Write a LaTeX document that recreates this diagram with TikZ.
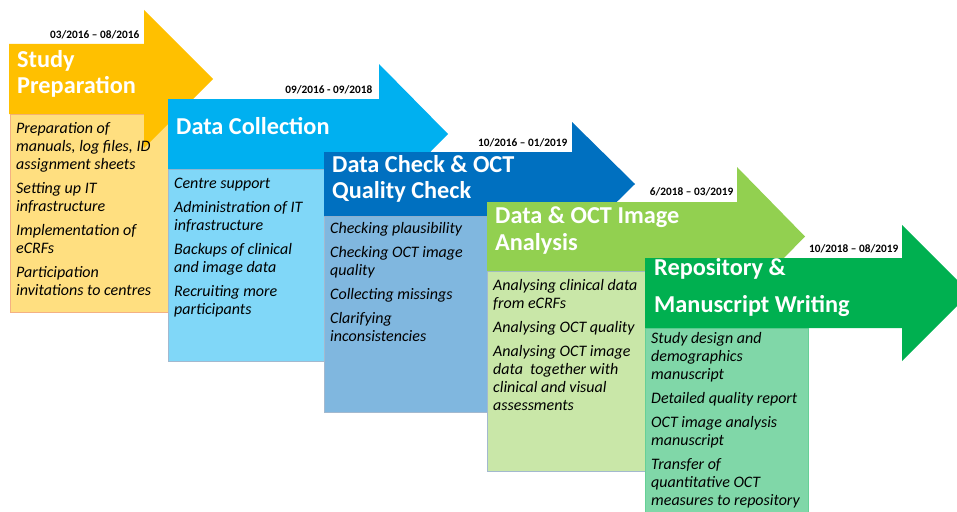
\documentclass[tikz,border=0pt]{standalone}
\usepackage{fontspec}
\setmainfont{Carlito}
\definecolor{cY}{HTML}{FFC000}
\definecolor{cB}{HTML}{00B0F0}
\definecolor{cD}{HTML}{0070C0}
\definecolor{cL}{HTML}{92D050}
\definecolor{cG}{HTML}{00B050}
\definecolor{bdY}{HTML}{F4B183}
\definecolor{bdB}{HTML}{A3B9CF}
\newcommand{\bodytext}[1]{\parbox[t]{175pt}{\raggedright\itshape\fontsize{16}{18}\selectfont #1}}
\newcommand{\headtext}[2]{\parbox[t]{320pt}{\raggedright\bfseries\fontsize{24.3}{#1}\selectfont #2}}
\tikzset{
  boxtext/.style={anchor=base west, inner sep=0pt, text=black},
  headlbl/.style={anchor=base west, inner sep=0pt, text=white},
  datelbl/.style={anchor=base east, inner sep=1.5pt, fill=white, text=black, font=\bfseries\fontsize{11.3}{13}\selectfont},
  taskbox/.style={line width=0.8pt}
}
\begin{document}
\begin{tikzpicture}[x=1pt,y=-1pt]
\useasboundingbox (0,0) rectangle (957,511);
% ---------- phase 1
\filldraw[taskbox, fill=cY!50, draw=bdY] (10,114) rectangle (168,312);
\fill[cY] (9,44) -- (144,44) -- (144,10) -- (213,79) -- (144,148) -- (144,114) -- (9,114) -- cycle;
\node[headlbl] (h1) at (17,67) {\headtext{26.5}{Study\\Preparation}};
\node[boxtext] (b1) at (16,133) {\bodytext{Preparation of\\manuals, log files, ID\\assignment sheets\\[6pt]Setting up IT\\infrastructure\\[6pt]Implementation of\\eCRFs\\[6pt]Participation\\invitations to centres}};
\node[datelbl] (d1) at (141,38) {03/2016 – 08/2016};
% ---------- phase 2
\filldraw[taskbox, fill=cB!50, draw=bdB] (168,169) rectangle (324,361);
\fill[cB] (168,99) -- (379,99) -- (379,64) -- (448,134) -- (379,204) -- (379,169) -- (168,169) -- cycle;
\node[headlbl] (h2) at (176,134) {\headtext{26.5}{Data Collection}};
\node[boxtext] (b2) at (174,188) {\bodytext{Centre support\\[6pt]Administration of IT\\infrastructure\\[6pt]Backups of clinical\\and image data\\[6pt]Recruiting more\\participants}};
\node[datelbl] (d2) at (374,93) {09/2016 - 09/2018};
% ---------- phase 3
\filldraw[taskbox, fill=cD!50, draw=bdB] (324,216) rectangle (487,412);
\fill[cD] (324,152) -- (572,152) -- (572,122) -- (635,184) -- (572,246) -- (572,216) -- (324,216) -- cycle;
\node[headlbl] (h3) at (332,172) {\headtext{26}{Data Check \& OCT\\Quality Check}};
\node[boxtext] (b3) at (330,233) {\bodytext{Checking plausibility\\[6pt]Checking OCT image\\quality\\[6pt]Collecting missings\\[6pt]Clarifying\\inconsistencies}};
\node[datelbl] (d3) at (569,146) {10/2016 – 01/2019};
% ---------- phase 4
\filldraw[taskbox, fill=cL!50, draw=bdB] (487,271) rectangle (645,471);
\fill[cL] (487,202) -- (737,202) -- (737,167) -- (805,236.5) -- (737,306) -- (737,271) -- (487,271) -- cycle;
\node[headlbl] (h4) at (495,223) {\headtext{27}{Data \& OCT Image\\Analysis}};
\node[boxtext] (b4) at (493,290) {\bodytext{Analysing clinical data\\from eCRFs\\[6pt]Analysing OCT quality\\[6pt]Analysing OCT image\\data\ \ together with\\clinical and visual\\assessments}};
\node[datelbl] (d4) at (735,195) {6/2018 – 03/2019};
% ---------- phase 5
\filldraw[taskbox, fill=cG!50, draw=cG!60] (645,328) rectangle (808,530);
\fill[cG] (645,258) -- (902,258) -- (902,225) -- (970,293) -- (902,361) -- (902,328) -- (645,328) -- cycle;
\node[headlbl] (h5) at (654,275) {\headtext{37}{Repository \&\\Manuscript Writing}};
\node[boxtext] (b5) at (651,343) {\bodytext{Study design and\\demographics\\manuscript\\[6pt]Detailed quality report\\[6pt]OCT image analysis\\manuscript\\[6pt]Transfer of\\quantitative OCT\\measures to repository}};
\node[datelbl] (d5) at (900,252) {10/2018 – 08/2019};
\end{tikzpicture}
\end{document}
